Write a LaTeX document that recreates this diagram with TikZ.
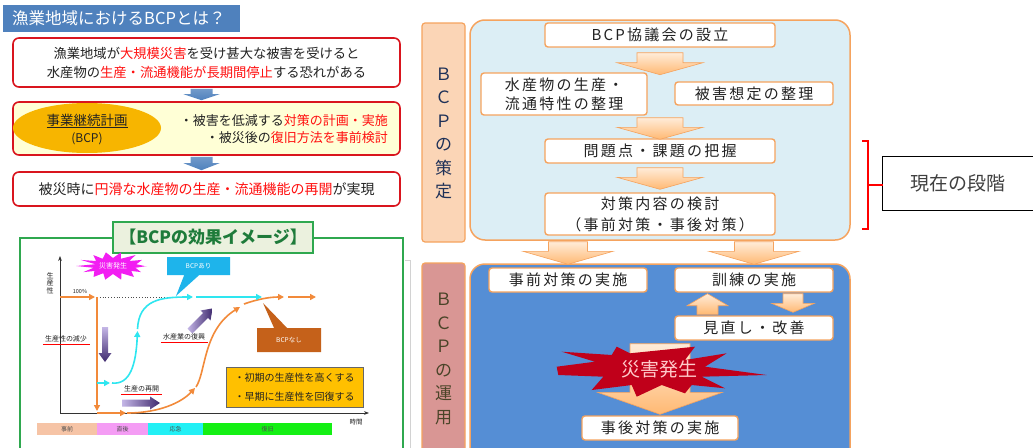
\documentclass[tikz,border=0pt]{standalone}
\usepackage{fontspec}
\setmainfont{Noto Sans CJK JP}
\newfontfamily\jpsp{Noto Sans CJK JP}[LetterSpace=15]
\usetikzlibrary{arrows.meta,shapes.geometric,shapes.callouts,calc}
\definecolor{titleblue}{HTML}{4F81BD}
\definecolor{boxred}{HTML}{D9151E}
\definecolor{hred}{HTML}{FF1010}
\definecolor{paleyel}{HTML}{FFFFD6}
\definecolor{goldc}{HTML}{F7B500}
\definecolor{gframe}{HTML}{2FA84F}
\definecolor{gtitlefill}{HTML}{EBF1DE}
\definecolor{gtitletext}{HTML}{1E7B3A}
\definecolor{magc}{HTML}{F21EF2}
\definecolor{cyanc}{HTML}{1EB4EB}
\definecolor{brownc}{HTML}{C5611A}
\definecolor{ocurve}{HTML}{F28A3A}
\definecolor{ccurve}{HTML}{2EE6F0}
\definecolor{yboxc}{HTML}{FFC000}
\definecolor{ph1}{HTML}{F6C4A6}
\definecolor{ph2}{HTML}{F49CF4}
\definecolor{ph3}{HTML}{22F0F5}
\definecolor{ph4}{HTML}{14F014}
\definecolor{obord}{HTML}{F5A35E}
\definecolor{panelA}{HTML}{DCEEF5}
\definecolor{panelB}{HTML}{558ED5}
\definecolor{labAfill}{HTML}{FBD5B6}
\definecolor{labBfill}{HTML}{D99694}
\definecolor{labAtext}{HTML}{1F3158}
\definecolor{labBtext}{HTML}{4A4428}
\definecolor{explred}{HTML}{C0001A}
\definecolor{expltext}{HTML}{FFCACA}
\definecolor{purpd}{HTML}{3F2A6E}
\definecolor{purpl}{HTML}{C4B6E6}
\definecolor{txtc}{HTML}{222222}
% block arrow: #1 style, #2 start, #3 tip, #4 half shaft, #5 half head, #6 head length (positive = pointing down)
\newcommand\blockarrow[6]{%
  \path[#1] let \p1=(#2), \p2=(#3) in
    (\x2-#4pt,\y1) -- (\x2+#4pt,\y1) -- (\x2+#4pt,\y2+#6pt) -- (\x2+#5pt,\y2+#6pt)
    -- (\x2,\y2) -- (\x2-#5pt,\y2+#6pt) -- (\x2-#4pt,\y2+#6pt) -- cycle;}
\begin{document}
\begin{tikzpicture}[x=1pt,y=-1pt,
  redbox/.style={draw=boxred, line width=1.6pt, rounded corners=6pt, inner sep=0pt, text=txtc},
  obox/.style={draw=obord, line width=1.4pt, rounded corners=3pt, fill=white, inner sep=0pt, text=txtc,
     font=\jpsp\fontsize{15}{19}\selectfont, align=center},
  oarrow/.style={draw=obord, line width=0.6pt, top color=orange!15, bottom color=orange!55},
  barrow/.style={top color=titleblue!80, bottom color=titleblue!100!black},
  lbl/.style={font=\fontsize{7}{8}\selectfont, inner sep=1pt, text=txtc},
  uline/.style={draw=red, line width=1pt},
  phase/.style={minimum height=12pt, inner sep=0pt, font=\fontsize{6}{7}\selectfont, text=txtc!80},
  curveo/.style={draw=ocurve, line width=1.6pt, -{Triangle[length=6pt,width=6pt]}},
  curvec/.style={draw=ccurve, line width=1.6pt, -{Triangle[length=6pt,width=6pt]}},
  vlab/.style={font=\fontsize{17}{23.5}\selectfont, align=center, inner sep=0pt}
]
\useasboundingbox (0,0) rectangle (1033,447);
\clip (0,0) rectangle (1033,447);
\fill[white] (0,0) rectangle (1033,447);

% ---------------- left top ----------------
\node[fill=titleblue, anchor=north west, minimum height=27pt, text width=219pt, inner xsep=9pt, inner ysep=0pt,
  align=left, text=white, font=\fontsize{16.5}{18}\selectfont] (title) at (3,5) {漁業地域におけるBCPとは？};

\node[redbox, fill=white, minimum width=387pt, minimum height=49pt, align=center,
  font=\fontsize{13.3}{19}\selectfont] (b1) at (206.5,62.5)
  {漁業地域が\textcolor{hred}{大規模災害}を受け甚大な被害を受けると\\水産物の\textcolor{hred}{生産・流通機能が長期間停止}する恐れがある};

\node[redbox, fill=paleyel, minimum width=387pt, minimum height=53pt] (b2) at (206.5,128.5) {};
\node[ellipse, fill=goldc, minimum width=148pt, minimum height=50pt] (bcpell) at (87,128) {};
\node[font=\fontsize{13.5}{15}\selectfont, text=txtc, inner sep=0pt] (bcpname) at (87,121) {\underline{事業継続計画}};
\node[font=\fontsize{12}{14}\selectfont, text=txtc, inner sep=0pt] (bcpabbr) at (87,139) {(BCP)};
\node[anchor=east, font=\fontsize{13}{15}\selectfont, text=txtc, inner sep=0pt] (m1) at (388,121)
  {・被害を低減する\textcolor{hred}{対策の計画・実施}};
\node[anchor=east, font=\fontsize{13}{15}\selectfont, text=txtc, inner sep=0pt] (m2) at (388,138)
  {・被災後の\textcolor{hred}{復旧方法を事前検討}};

\node[redbox, fill=white, minimum width=387pt, minimum height=34pt, font=\fontsize{14}{16}\selectfont] (b3) at (206.5,189)
  {被災時に\textcolor{hred}{円滑な水産物の生産・流通機能の再開}が実現};

\blockarrow{barrow}{$(b1.south)+(-5,1)$}{$(b2.north)+(-5,-1)$}{11}{18}{6}
\blockarrow{barrow}{$(b2.south)+(-5,1)$}{$(b3.north)+(-5,-1)$}{11}{18}{7}

% ---------------- graph ----------------
\draw[gframe, line width=1.5pt] (20,460) -- (20,238) -- (403,238) -- (403,460);
\draw[gray!35, line width=0.8pt] (405,260) -- (410,260) -- (410,460);
\node[draw=gframe, line width=2.5pt, fill=gtitlefill, minimum width=200pt, minimum height=31pt, inner sep=0pt,
  text=gtitletext, font=\fontsize{17}{19}\selectfont\bfseries] (gtitle) at (213,237.5) {【BCPの効果イメージ】};

\coordinate (O) at (60,413);
\draw[black!80, line width=1pt, -{Stealth[length=5pt]}] (O) -- (60,256);
\draw[black!80, line width=1pt, -{Stealth[length=5pt]}] (O) -- (369,413);
\node[font=\fontsize{7}{7.5}\selectfont, align=center, inner sep=0pt, text=txtc] (ylab) at (50,283) {生\\産\\性};
\node[font=\fontsize{5.5}{6}\selectfont, inner sep=0pt, text=txtc] (pct) at (80,291) {100\%};
\node[font=\fontsize{6.5}{7}\selectfont, inner sep=0pt, text=txtc] (tlab) at (356,422) {時間};

% phase bar
\node[phase, fill=ph1, minimum width=60pt] (p1) at (67,429) {事前};
\node[phase, fill=ph2, minimum width=51pt] (p2) at (122.5,429) {直後};
\node[phase, fill=ph3, minimum width=55pt] (p3) at (175.5,429) {応急};
\node[phase, fill=ph4, minimum width=129pt] (p4) at (267.5,429) {復旧};

% dotted 100% line
\draw[black!70, dotted, line width=0.8pt] (97,297) -- (178,297);

% orange curve (without BCP)
\draw[curveo] (60,297) -- (95,297);
\draw[curveo] (97,297) -- (97,411);
\draw[curveo] (97,413) -- (126,413);
\draw[curveo] (127,413) .. controls (160,413) and (182,402) .. (195,388);
\draw[curveo] (196,387) .. controls (206,372) and (203,330) .. (240,307);
\draw[curveo] (244,304) .. controls (258,299) and (270,297) .. (284,297);
\draw[curveo] (288,297) -- (316,297);

% cyan curve (with BCP)
\draw[curvec] (97,383) -- (110,383);
\draw[curvec] (112,383) .. controls (130,385) and (136,365) .. (137.5,331);
\draw[curvec] (137.5,329) .. controls (139,300) and (160,297) .. (193,297);
\draw[curvec] (196,297) -- (262,297);

% purple arrows
\path[top color=purpl, bottom color=purpd] (102,327) -- (108,327) -- (108,353) -- (111.5,353) -- (105,362) -- (98.5,353) -- (102,353) -- cycle;
\path[left color=purpl, right color=purpd] (122,399.5) -- (150,399.5) -- (150,396.5) -- (160,403) -- (150,409.5) -- (150,406.5) -- (122,406.5) -- cycle;
\begin{scope}[shift={(190,331)}, rotate=45]
  \path[left color=purpl, right color=purpd] (0,-3.5) -- (22,-3.5) -- (22,-7) -- (32,0) -- (22,7) -- (22,3.5) -- (0,3.5) -- cycle;
\end{scope}

% labels with red underline
\node[lbl] (lgen) at (66,339) {生産性の減少};
\draw[uline] ($(lgen.south west)+(-1,1)$) -- ($(lgen.south east)+(2,1)$);
\node[lbl] (lfuk) at (184,337) {水産業の復興};
\draw[uline] ($(lfuk.south west)+(-1,1)$) -- ($(lfuk.south east)+(2,1)$);
\node[lbl] (lsai) at (141.5,389) {生産の再開};
\draw[uline] ($(lsai.south west)+(-2,1)$) -- ($(lsai.south east)+(2,1)$);

% magenta starburst
\fill[magc] plot[samples=29, domain=0:28, variable=\t]
  ({113+(34-13*mod(round(\t),2)+3*sin(\t*137))*cos(\t*360/28)}, {266+(14-6*mod(round(\t),2))*sin(\t*360/28)}) -- cycle;
\node[text=white, font=\fontsize{7}{8}\selectfont, inner sep=0pt] (hassei1) at (113,266) {災害発生};

% callouts
\node[rectangle callout, fill=cyanc, minimum width=63pt, minimum height=18pt, inner sep=0pt,
  callout absolute pointer={(176,296)}, callout pointer width=15pt,
  text=white, font=\fontsize{6.5}{7}\selectfont] (ari) at (198.5,266) {BCPあり};
\node[rectangle callout, fill=brownc, minimum width=64pt, minimum height=24pt, inner sep=0pt,
  callout absolute pointer={(263,303)}, callout pointer width=13pt,
  text=white, font=\fontsize{6.5}{7}\selectfont] (nashi) at (289,340) {BCPなし};

% yellow box
\node[draw=black!60, line width=0.8pt, fill=yboxc, minimum width=137pt, minimum height=40pt, inner sep=0pt,
  align=left, text=txtc, font=\fontsize{10}{19}\selectfont] (ybox) at (294.5,387)
  {・初期の生産性を高くする\\・早期に生産性を回復する};

% ---------------- right: planning ----------------
\node[draw=obord, line width=1.2pt, fill=labAfill, rounded corners=3pt, minimum width=43pt, minimum height=219pt] (labA) at (443.5,132.5) {};
\node[vlab, text=labAtext] (labAt) at (443.5,133.5) {Ｂ\\Ｃ\\Ｐ\\の\\策\\定};

\node[draw=obord, line width=1.5pt, fill=panelA, rounded corners=15pt, minimum width=380pt, minimum height=220pt] (panA) at (660,130) {};

\node[obox, minimum width=230pt, minimum height=24pt] (s1) at (660,35) {BCP協議会の設立};
\node[obox, minimum width=166pt, minimum height=42pt] (s2a) at (564,94) {水産物の生産・\\流通特性の整理};
\node[obox, minimum width=158pt, minimum height=23pt] (s2b) at (754,93.5) {被害想定の整理};
\node[obox, minimum width=230pt, minimum height=24pt] (s3) at (660,151) {問題点・課題の把握};
\node[obox, minimum width=230pt, minimum height=42pt, font=\jpsp\fontsize{15}{21}\selectfont] (s4) at (660,214) {対策内容の検討\\（事前対策・事後対策）};

\blockarrow{oarrow}{$(s1.south)+(0,5)$}{$(s1.south)+(0,27)$}{23}{43}{12}
\blockarrow{oarrow}{$(s2a.south -| s3.north)+(0,2)$}{$(s3.north)+(0,1)$}{23}{43}{12}
\blockarrow{oarrow}{$(s3.south)+(0,4)$}{$(s4.north)+(0,-3)$}{23}{43}{12}

% ---------------- right: operation ----------------
\node[draw=obord, line width=1.2pt, fill=labBfill, rounded corners=3pt, minimum width=43pt, minimum height=197pt] (labB) at (443.5,361.5) {};
\node[vlab, text=labBtext] (labBt) at (443.5,359) {Ｂ\\Ｃ\\Ｐ\\の\\運\\用};

\node[draw=obord, line width=1.5pt, fill=panelB, rounded corners=15pt, minimum width=380pt, minimum height=206pt] (panB) at (660,367) {};

\node[obox, minimum width=158pt, minimum height=24pt] (t1) at (568,280) {事前対策の実施};
\node[obox, minimum width=158pt, minimum height=24pt] (t2) at (754,280) {訓練の実施};
\node[obox, minimum width=158pt, minimum height=24pt] (t3) at (754,328) {見直し・改善};
\node[obox, minimum width=156pt, minimum height=24pt] (t4) at (660,428) {事後対策の実施};

\blockarrow{oarrow}{$(panA.south -| t1.north)+(0,1)$}{$(t1.north)+(0,-3)$}{19.5}{45}{13}
\blockarrow{oarrow}{$(panA.south -| t2.north)+(0,1)$}{$(t2.north)+(0,-3)$}{19.5}{45}{13}
\blockarrow{oarrow}{$(t3.north)+(-46.5,-1)$}{$(t2.south)+(-46.5,1)$}{10.5}{20.5}{-12}
\blockarrow{oarrow}{$(t2.south)+(39,1)$}{$(t3.north)+(39,-3)$}{10}{21.5}{9}
\blockarrow{oarrow}{$(t3.south -| t4.north)+(0,3)$}{$(t4.north)+(0,-1)$}{30}{62.5}{22}

% explosion
\fill[explred] (556.7,366.7) -- (595,361.7) -- (561.7,351.7) -- (611.7,355) -- (616.7,346.7) -- (630,353.3)
  -- (695,346.7) -- (685,360) -- (726.7,353.3) -- (705,366.7) -- (766.7,375) -- (701.7,376.7)
  -- (725,388.3) -- (691.7,385) -- (685,393.3) -- (661.7,385) -- (636.7,396.7) -- (631.7,385)
  -- (591.7,390) -- (603.3,376.7) -- (558.3,375) -- cycle;
\node[text=expltext, font=\fontsize{19}{20}\selectfont, inner sep=0pt] (hassei2) at (659,369) {災害発生};

% ---------------- current stage ----------------
\node[minimum width=149pt, minimum height=53pt, inner sep=0pt, text=black!75,
  font=\fontsize{19}{21}\selectfont] (now) at (957.5,183.5) {現在の段階};
\draw[black, line width=0.8pt] ($(now.north east)+(10,0)$) -- (now.north west) -- (now.south west) -- ($(now.south east)+(10,0)$);
\coordinate (brk) at (868,185);
\draw[red, line width=2.2pt] (862,141) -- (868,141) -- (868,229) -- (862,229);
\draw[red, line width=2.2pt] (brk) -- (brk -| now.west);
\end{tikzpicture}
\end{document}
